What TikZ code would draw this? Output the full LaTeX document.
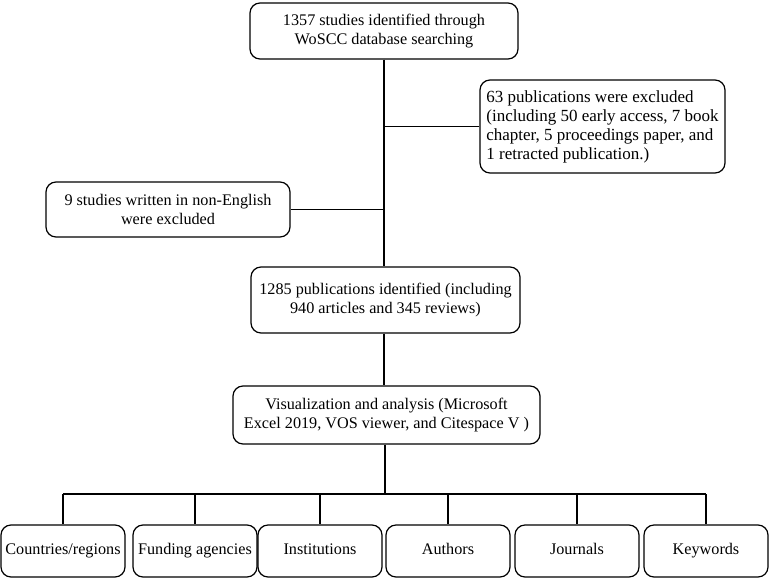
\documentclass[tikz,border=0pt]{standalone}
\usepackage{fontspec}
\setmainfont{Liberation Serif}
\begin{document}
\begin{tikzpicture}[
		x=1pt, y=-1pt, line width=1.2pt,
		passo/.style={draw=black, rounded corners=10pt, align=center,
			inner sep=2pt, font=\fontsize{16.2}{19.4}\selectfont},
		esito/.style={passo, minimum width=124pt, minimum height=52pt,
			text height=11pt, text depth=3.5pt},
		filo/.style={line width=1.2pt, black}]
	
	\useasboundingbox (0,0) rectangle (770,578);
	
	%% colonna principale
	\node[passo, minimum width=268pt, minimum height=56pt] (wos) at (384,31)
		{1357 studies identified through\\WoSCC database searching};
	\node[passo, minimum width=269pt, minimum height=66pt] (incl) at (385.5,300)
		{1285 publications identified (including\\940 articles and 345 reviews)};
	\node[passo, minimum width=307pt, minimum height=58pt] (vis) at (386.5,415)
		{Visualization and analysis (Microsoft\\Excel 2019, VOS viewer, and Citespace V )};
	
	%% esclusioni laterali
	\node[passo, align=left, minimum width=245pt, minimum height=93pt,
		font=\fontsize{17}{19}\selectfont] (tipo) at (602.5,126.5)
		{63 publications were excluded\\(including 50 early access, 7 book\\chapter, 5 proceedings paper, and\\1 retracted publication.)};
	\node[passo, minimum width=244pt, minimum height=55pt] (lingua) at (168,209.5)
		{9 studies written in non-English\\were excluded};
	
	\draw[filo] (wos.south) -- (wos.south |- incl.north);
	\draw[filo] (tipo.west) -- (tipo.west -| wos.south);
	\draw[filo] (lingua.east) -- (lingua.east -| wos.south);
	\draw[filo] (wos.south |- incl.south) -- (wos.south |- vis.north);
	
	%% analisi finali
	\node[esito] (paesi) at (63,551) {Countries/regions};
	\node[esito] (fondi) at (195,551) {Funding agencies};
	\node[esito] (enti) at (320,551) {Institutions};
	\node[esito] (autori) at (448,551) {Authors};
	\node[esito] (riviste) at (577,551) {Journals};
	\node[esito] (parole) at (706,551) {Keywords};
	
	\coordinate (hub) at (385,494);
	\draw[filo] (hub |- vis.south) -- (hub);
	\draw[filo] (hub -| paesi.north) -- (hub -| parole.north);
	\foreach \b in {paesi,fondi,enti,autori,riviste,parole}
		\draw[filo] (hub -| \b.north) -- (\b.north);
	
\end{tikzpicture}
\end{document}
